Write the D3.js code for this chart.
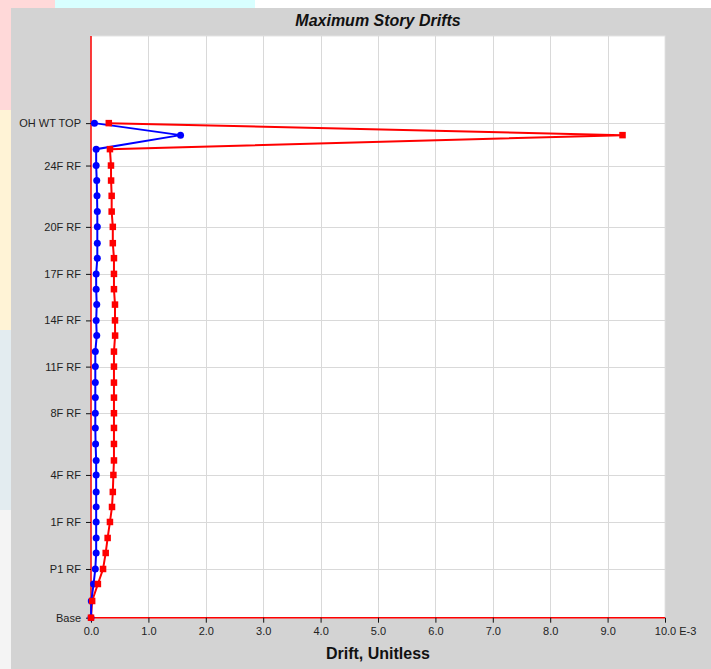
<!DOCTYPE html>
<html>
<head>
<meta charset="utf-8">
<script src="https://cdn.jsdelivr.net/npm/d3@7"></script>
<style>
  html, body { margin: 0; padding: 0; background: #ffffff; }
  svg { display: block; }
  text { font-family: "Liberation Sans", Arial, sans-serif; }
</style>
</head>
<body>
<div id="chart"></div>
<script>
// ---------------- DATA ----------------
const stories = ["Base","P3 RF","P2 RF","P1 RF","LG RF","G RF","1F RF","2F RF","3F RF","4F RF",
  "5F RF","6F RF","7F RF","8F RF","9F RF","10F RF","11F RF","12F RF","13F RF","14F RF",
  "15F RF","16F RF","17F RF","18F RF","19F RF","20F RF","21F RF","22F RF","23F RF","24F RF",
  "RF","OH WT","OH WT TOP"];
const elevations = [0,3.34,6.74,9.74,12.94,15.94,19.14,22.14,25.14,28.54,
  31.44,34.74,37.94,40.88,44.0,47.0,50.2,53.2,56.4,59.44,
  62.6,65.68,68.74,71.88,74.88,78.14,81.2,84.34,87.4,90.4,
  93.68,96.48,98.88];
const driftX = [0,0.005,0.045,0.075,0.09,0.09,0.09,0.09,0.09,0.09,
  0.09,0.08,0.075,0.075,0.075,0.075,0.075,0.075,0.1,0.09,
  0.1,0.09,0.09,0.11,0.11,0.11,0.11,0.105,0.1,0.09,
  0.09,1.56,0.06];
const driftY = [0,0.02,0.12,0.21,0.256,0.29,0.33,0.366,0.38,0.39,
  0.40,0.40,0.40,0.40,0.40,0.40,0.40,0.40,0.42,0.418,
  0.418,0.40,0.40,0.40,0.38,0.38,0.36,0.36,0.35,0.348,
  0.33,9.26,0.31];
const yTickLabels = ["Base","P1 RF","1F RF","4F RF","8F RF","11F RF","14F RF","17F RF","20F RF","24F RF","OH WT TOP"];
const xTicks = [0,1,2,3,4,5,6,7,8,9,10];
const xTickLabels = ["0.0","1.0","2.0","3.0","4.0","5.0","6.0","7.0","8.0","9.0","10.0"];
const xUnitSuffix = " E-3";
const title = "Maximum Story Drifts";
const xTitle = "Drift, Unitless";
const yMaxElev = 116.3;

// ---------------- LAYOUT ----------------
const W = 711, H = 669;
const plot = { left: 91, right: 665, top: 36, bottom: 617.7 };

const svg = d3.select("#chart").append("svg").attr("width", W).attr("height", H);

// faint outside backdrop
svg.append("rect").attr("x",0).attr("y",0).attr("width",W).attr("height",H).attr("fill","#ffffff");
svg.append("rect").attr("x",0).attr("y",0).attr("width",60).attr("height",110).attr("fill","#ffd9d9");
svg.append("rect").attr("x",55).attr("y",0).attr("width",200).attr("height",8).attr("fill","#d8ffff");
svg.append("rect").attr("x",0).attr("y",110).attr("width",11).attr("height",220).attr("fill","#fff3d6");
svg.append("rect").attr("x",0).attr("y",330).attr("width",11).attr("height",180).attr("fill","#e3ecf0");
svg.append("rect").attr("x",0).attr("y",510).attr("width",11).attr("height",159).attr("fill","#f4f4f4");

// grey panel
svg.append("rect").attr("x",11).attr("y",8).attr("width",W-11).attr("height",H-8).attr("fill","#d3d3d3");

// plot background
svg.append("rect")
  .attr("x", plot.left).attr("y", plot.top)
  .attr("width", plot.right - plot.left).attr("height", plot.bottom - plot.top)
  .attr("fill", "#ffffff").attr("stroke", "#e4e4e4").attr("stroke-width", 1);

const x = d3.scaleLinear().domain([0, 10]).range([plot.left, plot.right]);
const y = d3.scaleLinear().domain([0, yMaxElev]).range([plot.bottom, plot.top]);

const tickElev = yTickLabels.map(l => elevations[stories.indexOf(l)]);

// grid
const grid = svg.append("g");
grid.selectAll("line.v").data(xTicks.slice(1)).enter().append("line")
  .attr("x1", d => Math.round(x(d)) + 0.5).attr("x2", d => Math.round(x(d)) + 0.5)
  .attr("y1", plot.top).attr("y2", plot.bottom)
  .attr("stroke", "#d9d9d9").attr("stroke-width", 1);
grid.selectAll("line.h").data(tickElev.slice(1)).enter().append("line")
  .attr("x1", plot.left).attr("x2", plot.right)
  .attr("y1", d => Math.round(y(d)) + 0.5).attr("y2", d => Math.round(y(d)) + 0.5)
  .attr("stroke", "#d9d9d9").attr("stroke-width", 1);

// axes (D3 axes, restyled)
const xAxis = d3.axisBottom(x).tickValues(xTicks).tickSize(5).tickPadding(5)
  .tickFormat((d, i) => xTickLabels[i]);
const gx = svg.append("g").attr("transform", `translate(0,${plot.bottom})`).call(xAxis);
gx.select(".domain").attr("stroke", "#ff0000").attr("stroke-width", 1.5).attr("d", `M${plot.left},0H${plot.right}`);
gx.selectAll(".tick line").attr("stroke", "#111");
gx.selectAll(".tick text").attr("font-size", 11).attr("fill", "#222")
  .attr("font-family", "'Liberation Sans', Arial, sans-serif");
// append unit suffix to last label, keeping "10.0" centred on its tick
const lastText = gx.selectAll(".tick text").filter((d, i) => i === xTicks.length - 1);
const lw = lastText.node().getComputedTextLength();
lastText.attr("text-anchor", "start").attr("x", -lw / 2).text(xTickLabels[xTickLabels.length - 1] + xUnitSuffix);

const yAxis = d3.axisLeft(y).tickValues(tickElev).tickSize(5).tickPadding(5)
  .tickFormat((d, i) => yTickLabels[i]);
const gy = svg.append("g").attr("transform", `translate(${plot.left},0)`).call(yAxis);
gy.select(".domain").attr("stroke", "#ff0000").attr("stroke-width", 1.5).attr("d", `M0,${plot.top}V${plot.bottom}`);
gy.selectAll(".tick line").attr("stroke", "#111");
gy.selectAll(".tick text").attr("font-size", 11).attr("fill", "#222")
  .attr("font-family", "'Liberation Sans', Arial, sans-serif");

// series
const ptsY = elevations.map((e, i) => ({ e, v: driftY[i] }));
const ptsX = elevations.map((e, i) => ({ e, v: driftX[i] }));
const line = d3.line().x(d => x(d.v)).y(d => y(d.e));

svg.append("path").datum(ptsY).attr("d", line)
  .attr("fill", "none").attr("stroke", "#ff0000").attr("stroke-width", 2);
svg.append("path").datum(ptsX).attr("d", line)
  .attr("fill", "none").attr("stroke", "#0000ff").attr("stroke-width", 2);

svg.append("g").selectAll("circle").data(ptsX).enter().append("circle")
  .attr("cx", d => x(d.v)).attr("cy", d => y(d.e)).attr("r", 3.5)
  .attr("fill", "#0000ff");
const sq = 6.5;
svg.append("g").selectAll("rect").data(ptsY).enter().append("rect")
  .attr("x", d => x(d.v) - sq / 2).attr("y", d => y(d.e) - sq / 2)
  .attr("width", sq).attr("height", sq).attr("fill", "#ff0000");

// titles
svg.append("text").attr("x", (plot.left + plot.right) / 2).attr("y", 26)
  .attr("text-anchor", "middle").attr("font-size", 16).attr("font-weight", "bold")
  .attr("font-style", "italic").attr("fill", "#111").text(title);
svg.append("text").attr("x", (plot.left + plot.right) / 2).attr("y", 659)
  .attr("text-anchor", "middle").attr("font-size", 16).attr("font-weight", "bold")
  .attr("fill", "#111").text(xTitle);
</script>
</body>
</html>
